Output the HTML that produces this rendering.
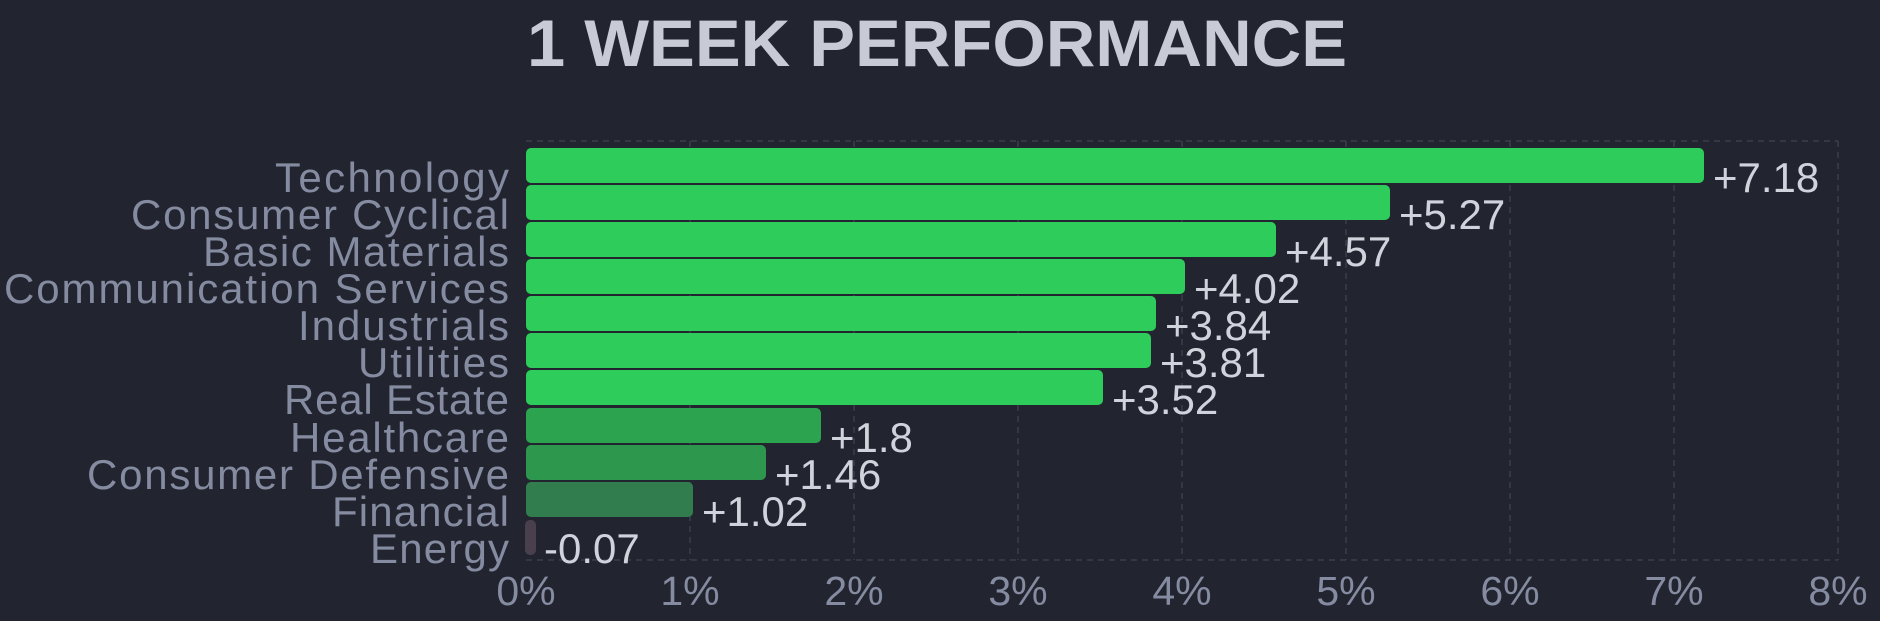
<!DOCTYPE html>
<html><head><meta charset="utf-8"><style>
html,body{margin:0;padding:0;background:#22252f;}
svg{display:block;}
text{font-family:"Liberation Sans",sans-serif;}
</style></head><body>
<svg width="1880" height="621" viewBox="0 0 1880 621" xmlns="http://www.w3.org/2000/svg">
<rect width="1880" height="621" fill="#22252f"/>
<text x="527" y="66" font-size="66" font-weight="bold" fill="#c8cad5" textLength="820" lengthAdjust="spacingAndGlyphs">1 WEEK PERFORMANCE</text>
<g stroke="#3a3f4c" stroke-width="1.5" stroke-dasharray="6,5">
<line x1="526" y1="141" x2="1838" y2="141"/>
<line x1="526" y1="560" x2="1838" y2="560"/>
<line x1="690" y1="141" x2="690" y2="560"/>
<line x1="854" y1="141" x2="854" y2="560"/>
<line x1="1018" y1="141" x2="1018" y2="560"/>
<line x1="1182" y1="141" x2="1182" y2="560"/>
<line x1="1346" y1="141" x2="1346" y2="560"/>
<line x1="1510" y1="141" x2="1510" y2="560"/>
<line x1="1674" y1="141" x2="1674" y2="560"/>
<line x1="1838" y1="141" x2="1838" y2="560"/>
</g>
<g>
<rect x="526" y="148" width="1178" height="35" rx="5" fill="#2ecc5a"/>
<rect x="526" y="185" width="864" height="35" rx="5" fill="#2ecc5a"/>
<rect x="526" y="222" width="750" height="35" rx="5" fill="#2ecc5a"/>
<rect x="526" y="259" width="659" height="35" rx="5" fill="#2ecc5a"/>
<rect x="526" y="296" width="630" height="35" rx="5" fill="#2ecc5a"/>
<rect x="526" y="333" width="625" height="35" rx="5" fill="#2ecc5a"/>
<rect x="526" y="370" width="577" height="35" rx="5" fill="#2ecc5a"/>
<rect x="526" y="408" width="295" height="35" rx="5" fill="#2ca34f"/>
<rect x="526" y="445" width="240" height="35" rx="5" fill="#2e974e"/>
<rect x="526" y="482" width="167" height="35" rx="5" fill="#317d4e"/>
<rect x="525" y="520" width="11" height="35" rx="5" fill="#4a3f4d"/>
</g>
<g font-size="42" fill="#858ba0" text-anchor="end" lengthAdjust="spacingAndGlyphs">
<text x="509" y="192" textLength="234">Technology</text>
<text x="509" y="229" textLength="378">Consumer Cyclical</text>
<text x="509" y="266" textLength="306">Basic Materials</text>
<text x="509" y="303" textLength="505">Communication Services</text>
<text x="509" y="340" textLength="211">Industrials</text>
<text x="509" y="377" textLength="151">Utilities</text>
<text x="509" y="414" textLength="225">Real Estate</text>
<text x="509" y="452" textLength="219">Healthcare</text>
<text x="509" y="489" textLength="422">Consumer Defensive</text>
<text x="509" y="526" textLength="177">Financial</text>
<text x="509" y="563" textLength="139">Energy</text>
</g>
<g font-size="42" fill="#d0d3dc">
<text x="1713" y="192">+7.18</text>
<text x="1399" y="229">+5.27</text>
<text x="1285" y="266">+4.57</text>
<text x="1194" y="303">+4.02</text>
<text x="1165" y="340">+3.84</text>
<text x="1160" y="377">+3.81</text>
<text x="1112" y="414">+3.52</text>
<text x="830" y="452">+1.8</text>
<text x="775" y="489">+1.46</text>
<text x="702" y="526">+1.02</text>
<text x="544" y="563">-0.07</text>
</g>
<g font-size="41" fill="#858ba0" text-anchor="middle">
<text x="526" y="605">0%</text>
<text x="690" y="605">1%</text>
<text x="854" y="605">2%</text>
<text x="1018" y="605">3%</text>
<text x="1182" y="605">4%</text>
<text x="1346" y="605">5%</text>
<text x="1510" y="605">6%</text>
<text x="1674" y="605">7%</text>
<text x="1838" y="605">8%</text>
</g>
</svg>
</body></html>
